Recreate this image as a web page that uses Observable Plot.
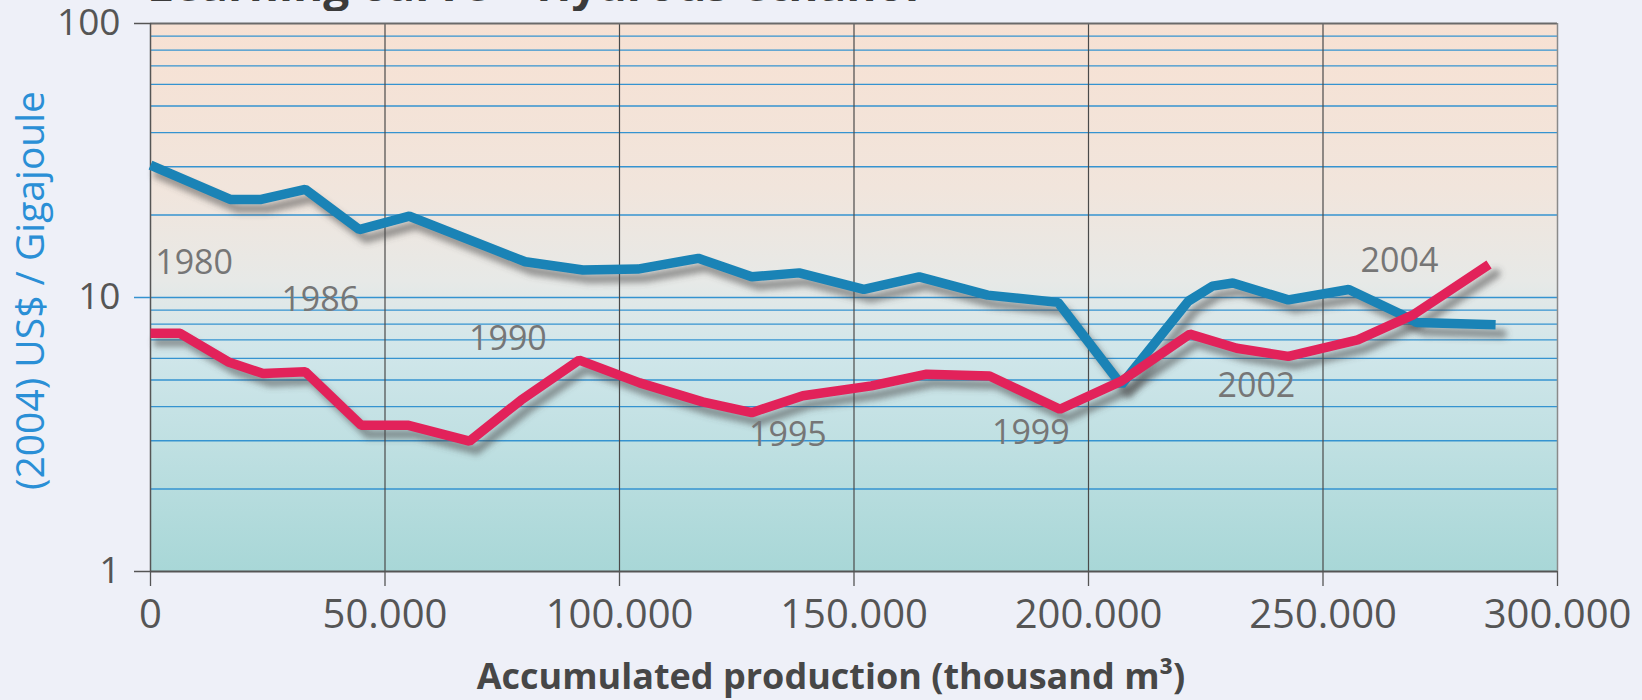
<!DOCTYPE html>
<html><head><meta charset="utf-8">
<script src="https://cdn.jsdelivr.net/npm/d3@7"></script>
<script src="https://cdn.jsdelivr.net/npm/@observablehq/plot@0.6"></script>
<style>
html,body{margin:0;padding:0;background:#eef0f8;width:1642px;height:700px;overflow:hidden;font-family:"Open Sans",sans-serif;}
body{position:relative;}
#title{position:absolute;left:140px;top:0;width:1000px;height:11px;overflow:hidden;z-index:2;}
#title span{position:absolute;left:7px;top:-40px;font-size:46px;line-height:46px;font-weight:700;color:#3b3b3b;white-space:nowrap;}
#chart svg{display:block;}
</style></head><body>
<div id="title"><span>Learning curve – Hydrous ethanol</span></div>
<div id="chart"></div>
<script>
// Accumulated production (thousand m³) and price (2004 US$/GJ)
const blueX = [0, 17000, 23600, 33000, 44500, 55200, 79900, 92200, 103900, 116800, 128200, 138300, 152100, 163900, 178500, 193500, 207000, 221300, 226400, 230800, 242600, 255500, 266500, 270000, 286800];
const blueY = [30.4, 22.8, 22.8, 24.8, 17.7, 19.8, 13.5, 12.6, 12.7, 13.9, 11.9, 12.3, 10.7, 11.9, 10.2, 9.6, 4.8, 9.7, 11.0, 11.3, 9.8, 10.7, 8.7, 8.1, 7.95];
const redX = [0, 6300, 16600, 24000, 33000, 44900, 54800, 68000, 79000, 91400, 104300, 117700, 128200, 139100, 153700, 165500, 178900, 193900, 207000, 221600, 231600, 242600, 257400, 269200, 285400];
const redY = [7.4, 7.4, 5.82, 5.28, 5.36, 3.42, 3.42, 2.99, 4.22, 5.91, 4.88, 4.16, 3.80, 4.38, 4.76, 5.25, 5.17, 3.91, 4.95, 7.35, 6.53, 6.10, 7.0, 8.64, 13.2];

const yearLabels = ["1980", "1986", "1990", "1995", "1999", "2002", "2004"];
const yearX = [9300, 36200, 76200, 135900, 187700, 235800, 266300];
const yearY = [13.4, 9.75, 7.06, 3.15, 3.21, 4.73, 13.6];

const xTicks = [0, 50000, 100000, 150000, 200000, 250000, 300000];
const xGrid = [50000, 100000, 150000, 200000, 250000];
const yTicksMain = [1, 100];
const yTickMid = [10];
const yMinor = [2, 3, 4, 5, 6, 7, 8, 9, 10, 20, 30, 40, 50, 60, 70, 80, 90];

const xTitle = "Accumulated production (thousand m³)";
const yTitle = "(2004) US$ / Gigajoule";

const blue = blueX.map((x, i) => ({x, y: blueY[i]}));
const red = redX.map((x, i) => ({x, y: redY[i]}));
const years = yearLabels.map((t, i) => ({t, x: yearX[i], y: yearY[i]}));

const fmt = d => d === 0 ? "0" : d3.format(",")(d).replace(/,/g, ".");
const BLUE = "#1a83b6", RED = "#e2225a", GRID = "#3593d0", SHADOW = "#4b4b4c";

const plot = Plot.plot({
  width: 1642, height: 700,
  marginLeft: 150, marginRight: 85, marginTop: 23, marginBottom: 129,
  style: {background: "transparent", fontFamily: "'Open Sans', sans-serif", overflow: "visible"},
  x: {domain: [0, 300000]},
  y: {type: "log", domain: [1, 100]},
  marks: [
    Plot.frame({fill: "url(#bgGrad)", stroke: null}),
    Plot.ruleY(yMinor, {stroke: GRID, strokeWidth: 1.3}),
    Plot.ruleX(xGrid, {stroke: "#4a4a4a", strokeWidth: 1.2}),
    Plot.ruleY([100], {stroke: "#6a6a6a", strokeWidth: 2}),
    Plot.ruleY([1], {stroke: "#555", strokeWidth: 2}),
    Plot.ruleX([0], {stroke: "#555", strokeWidth: 1.5}),
    Plot.ruleX([300000], {stroke: "#8a8a8a", strokeWidth: 1.5}),
    Plot.axisX({ticks: xTicks, tickSize: 15, tickPadding: 13, tickFormat: fmt, fontSize: 40, fill: "#555", stroke: "#555", strokeWidth: 1.3, label: null}),
    Plot.axisY({ticks: yTicksMain, tickSize: 16, tickPadding: 14, tickFormat: d => String(d), fontSize: 37, fill: "#555", stroke: "#555", strokeWidth: 1.5, label: null}),
    Plot.axisY({ticks: yTickMid, tickSize: 16, tickPadding: 14, tickFormat: d => String(d), fontSize: 37, fill: "#555", stroke: GRID, strokeWidth: 1.5, label: null}),
    Plot.line(blue, {x: "x", y: "y", stroke: SHADOW, strokeOpacity: 0.55, strokeWidth: 9, dx: 7, dy: 9}),
    Plot.line(red, {x: "x", y: "y", stroke: SHADOW, strokeOpacity: 0.55, strokeWidth: 9, dx: 7, dy: 9}),
    Plot.line(blue, {x: "x", y: "y", stroke: BLUE, strokeWidth: 9.5, strokeLinejoin: "miter", strokeLinecap: "butt"}),
    Plot.line(red, {x: "x", y: "y", stroke: RED, strokeWidth: 9.5, strokeLinejoin: "miter", strokeLinecap: "butt"}),
    Plot.text(years, {x: "x", y: "y", text: "t", fontSize: 34, fill: "#767676"}),
    Plot.text([yTitle], {frameAnchor: "left", textAnchor: "middle", lineAnchor: "middle", rotate: -90, dx: -119, dy: -7, fontSize: 39, fill: "#2a8fd6"}),
    Plot.text([xTitle], {frameAnchor: "bottom", textAnchor: "middle", lineAnchor: "middle", dx: -23, dy: 106, fontSize: 36, fontWeight: "bold", fill: "#474747"})
  ]
});

d3.select(plot).insert("defs", ":first-child").html(`
  <linearGradient id="bgGrad" x1="0" y1="0" x2="0" y2="1">
    <stop offset="0%" stop-color="#f7e1d3"/>
    <stop offset="30%" stop-color="#f1e5dc"/>
    <stop offset="47%" stop-color="#e7e9e7"/>
    <stop offset="60%" stop-color="#d0e6ea"/>
    <stop offset="100%" stop-color="#a8d7d7"/>
  </linearGradient>
  <filter id="blur" filterUnits="userSpaceOnUse" x="0" y="0" width="1642" height="700"><feGaussianBlur stdDeviation="3"/></filter>`);
d3.select(plot).selectAll("g").filter(function() {
  return (this.getAttribute("stroke") || "").toLowerCase() === SHADOW;
}).attr("filter", "url(#blur)");

document.getElementById("chart").appendChild(plot);
</script></body></html>
